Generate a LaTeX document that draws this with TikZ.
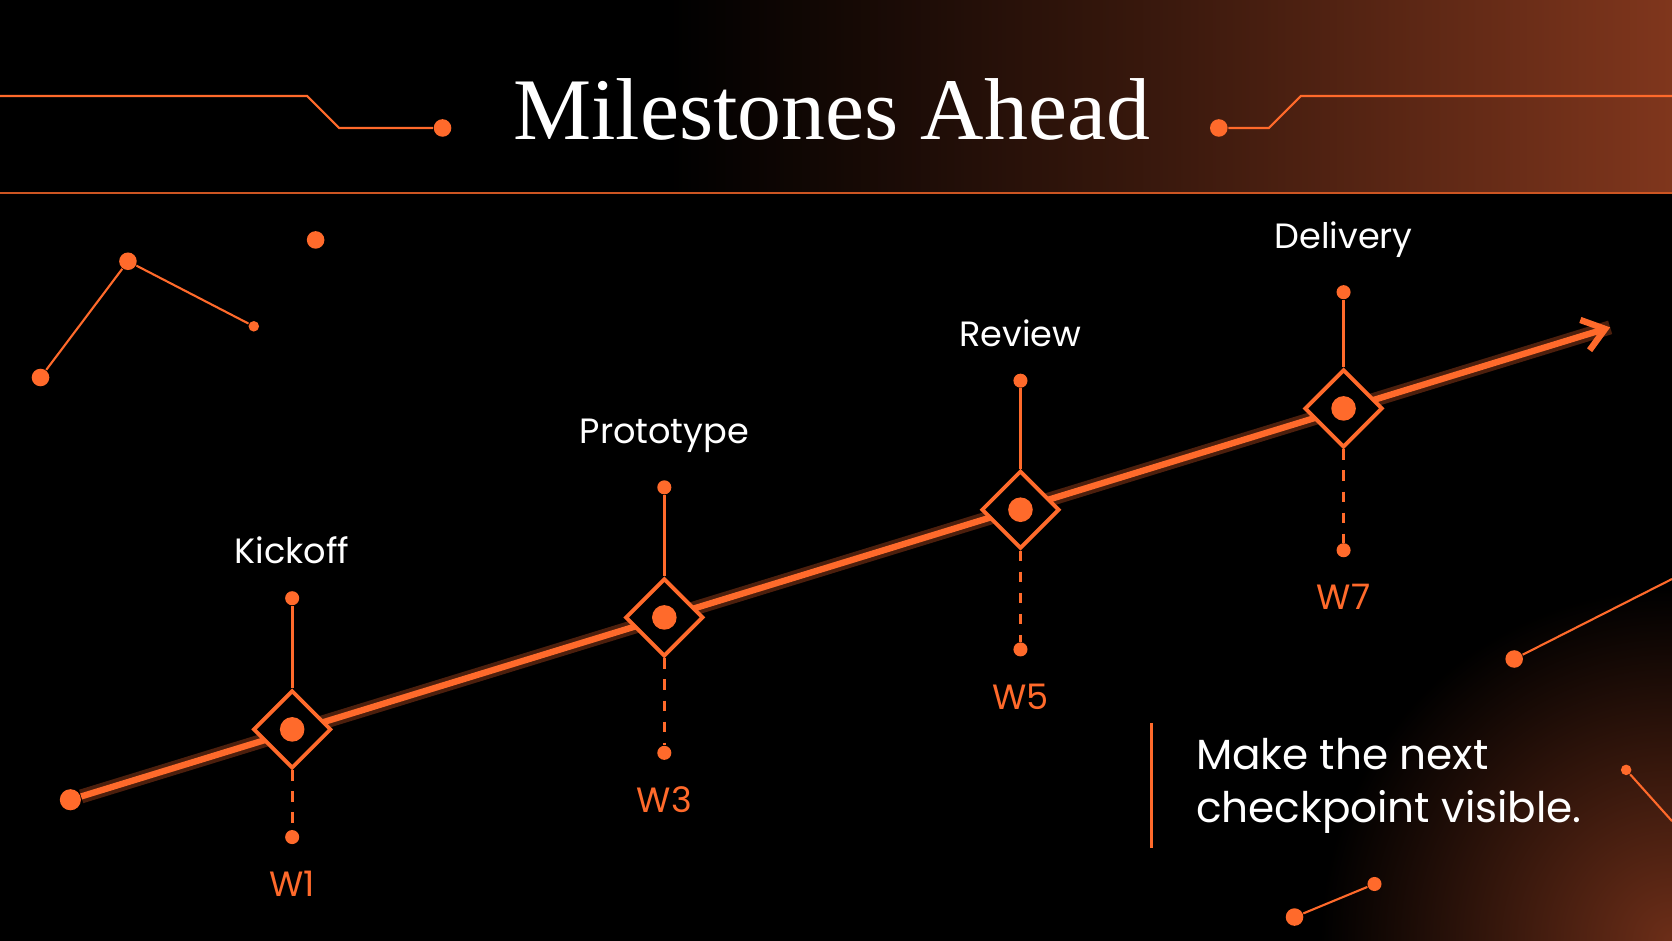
\documentclass[tikz,border=0pt]{standalone}
\usepackage{fontspec}
\setmainfont{Poppins}
\newfontfamily\titlefont{Liberation Serif}
\usetikzlibrary{shapes.geometric,arrows.meta,positioning}
\definecolor{ora}{HTML}{FF6A2B}
\definecolor{brn}{HTML}{C4532C}
\pgfdeclarehorizontalshading{bandshade}{100bp}{color(0bp)=(black); color(25bp)=(black); color(45bp)=(black); color(60bp)=(black!70!brn); color(75bp)=(black!35!brn); color(100bp)=(brn)}
\tikzset{
  mdot/.style={circle,fill=ora,inner sep=0pt,minimum size=#1},
  mdot/.default=4pt,
  mdiam/.style={diamond,draw=ora,line width=1.1pt,minimum size=0.78cm,inner sep=0pt},
  lab/.style={text=white,font=\fontsize{10}{12}\selectfont},
  wlab/.style={text=ora,font=\fontsize{10}{12}\selectfont},
  deco/.style={ora,line width=0.6pt}
}
\begin{document}
\begin{tikzpicture}[x=0.010663cm,y=-0.010663cm]
	\fill[black] (0,0) rectangle (1568,882);
	\useasboundingbox (0,0) rectangle (1568,882);
	% band and glow
	\shade[inner color=brn!55!black,outer color=black] (1568,882) circle [radius=330];
	\shade[shading=bandshade] (0,0) rectangle (1568,181);
	\draw[ora!80!black,line width=0.5pt] (0,181) -- (1568,181);
	% title
	\node[text=white,font=\titlefont\fontsize{25}{28}\selectfont] (title) at (780,103) {Milestones Ahead};
	\node[mdot=5pt] (tl) at (415,120) {};
	\node[mdot=5pt] (tr) at (1143,120) {};
	\coordinate (tla) at (0,90);
	\coordinate (tra) at (1568,90);
	\draw[deco] (tla) -- (288,90) -- (318,120) -- (tl);
	\draw[deco] (tr) -- (1190,120) -- (1220,90) -- (tra);
	% decorations
	\node[mdot=5pt] (a1) at (38,354) {};
	\node[mdot=5pt] (a2) at (120,245) {};
	\node[mdot=3pt] (a3) at (238,306) {};
	\node[mdot=5pt] (a4) at (296,225) {};
	\draw[deco] (a1) -- (a2) -- (a3);
	\node[mdot=5pt] (b1) at (1420,618) {};
	\coordinate (b2) at (1568,543);
	\draw[deco] (b1) -- (b2);
	\node[mdot=3pt] (c1) at (1525,722) {};
	\coordinate (c2) at (1568,770);
	\draw[deco] (c1) -- (c2);
	\node[mdot=5pt] (d1) at (1214,860) {};
	\node[mdot=4pt] (d2) at (1289,829) {};
	\draw[deco] (d1) -- (d2);
	% timeline
	\node[mdot=6pt] (start) at (66,750) {};
	\coordinate (end) at (1510,307);
	\draw[ora!60!black,line width=4pt,opacity=0.5] (start) -- (end);
	\draw[ora,line width=1.8pt,-{Straight Barb[length=6pt,width=9pt]}] (start) -- (end);
	\foreach \n/\x/\y/\t/\tl/\b/\w in {k/274/684/561/Kickoff/785/W1, p/623/579/457/Prototype/706/W3, r/957/478/357/Review/609/W5, d/1260/383/274/Delivery/516/W7}{
		\node[mdiam,fill=black] (\n) at (\x,\y) {};
		\node[mdot=7pt] (\n c) at (\x,\y) {};
		\node[mdot=4pt] (\n t) at (\x,\t) {};
		\node[mdot=4pt] (\n b) at (\x,\b) {};
		\draw[ora,line width=0.8pt] (\n t) -- (\n.north);
		\draw[ora,line width=0.8pt,dashed] (\n.south) -- (\n b);
		\node[lab,above=4pt of \n t] (\n l) {\tl};
		\node[wlab,below=4pt of \n b] (\n w) {\w};
	}
	% note
	\coordinate (n1) at (1080,678);
	\coordinate (n2) at (1080,795);
	\draw[ora,line width=0.8pt] (n1) -- (n2);
	\node[text=white,anchor=west,align=left,font=\fontsize{12}{15}\selectfont] (note) at (1110,737) {Make the next\\checkpoint visible.};
\end{tikzpicture}
\end{document}
